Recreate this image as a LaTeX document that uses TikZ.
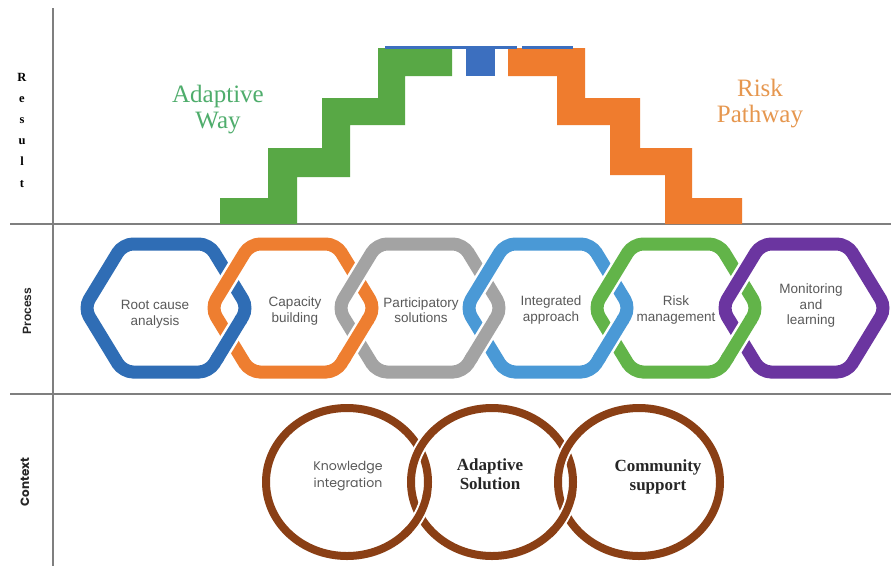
\documentclass[tikz,border=0pt]{standalone}
\usepackage{fontspec}
\setmainfont{Liberation Serif}
\newfontfamily\arialf{Liberation Sans}
\newfontfamily\geof{Poppins}

\definecolor{axisgray}{HTML}{7F7F7F}
\definecolor{labelgray}{HTML}{595959}
\definecolor{stairgreen}{HTML}{58A845}
\definecolor{stairorange}{HTML}{EF7C2E}
\definecolor{stairblue}{HTML}{3C6FBF}
\definecolor{advgreen}{HTML}{4FAD6C}
\definecolor{riskorange}{HTML}{E6974F}
\definecolor{hexblue}{HTML}{2F6DB5}
\definecolor{hexorange}{HTML}{EE7E30}
\definecolor{hexgray}{HTML}{A3A3A3}
\definecolor{hexlightblue}{HTML}{4A99D6}
\definecolor{hexgreen}{HTML}{62B449}
\definecolor{hexpurple}{HTML}{6B35A0}
\definecolor{ringbrown}{HTML}{8A3F15}

% outline of one hexagon link, centred at (#1,#2)
\newcommand{\hexoutline}[2]{({#1},{#2-64}) -- ({#1+43},{#2-64}) -- ({#1+82},{#2}) -- ({#1+43},{#2+64}) -- ({#1-43},{#2+64}) -- ({#1-82},{#2}) -- ({#1-43},{#2-64}) -- cycle}

\begin{document}
\begin{tikzpicture}[x=1pt,y=-1pt,
  axisline/.style={draw=axisgray, line width=2.4pt},
  hexhalo/.style={draw=white, line width=18pt, rounded corners=10pt},
  hexstroke/.style={line width=13pt, rounded corners=10pt},
  hexlabel/.style={font=\arialf\fontsize{13.5}{15.5}\selectfont, text=labelgray, align=center, inner sep=0pt},
  ringhalo/.style={draw=white, line width=12pt},
  ringstroke/.style={draw=ringbrown, line width=8pt},
  ringbold/.style={font=\bfseries\fontsize{17}{19}\selectfont, text=black!85, align=center, inner sep=0pt},
  titletext/.style={font=\fontsize{25}{26}\selectfont, align=center, inner sep=0pt},
  sidelabel/.style={font=\arialf\bfseries\fontsize{12}{14}\selectfont, text=black!85, rotate=90, inner sep=0pt}
]
\useasboundingbox (0,0) rectangle (891,566);
\fill[white] (0,0) rectangle (891,566);

% ---------- axes ----------
\draw[axisline] (53,8) -- (53,566);
\draw[axisline] (10,224) -- (891,224);
\draw[axisline] (10,394) -- (891,394);

% ---------- side labels ----------
\node[font=\bfseries\fontsize{12.5}{21.2}\selectfont, align=center, inner sep=0pt] (result) at (22,130)
  {R\\e\\s\\u\\l\\t};
\node[sidelabel] (process) at (27,311) {Process};
\node[sidelabel, font=\geof\bfseries\fontsize{12}{14}\selectfont] (context) at (25,482) {Context};

% ---------- result staircase ----------
\fill[stairgreen] (220,224) -- (220,198) -- (268,198) -- (268,148) -- (322,148) -- (322,98)
  -- (378,98) -- (378,48) -- (452,48) -- (452,76) -- (405,76) -- (405,125) -- (350,125)
  -- (350,177) -- (297,177) -- (297,224) -- cycle;
\fill[stairorange] (742,224) -- (742,198) -- (692,198) -- (692,148) -- (640,148) -- (640,98)
  -- (585,98) -- (585,48) -- (508,48) -- (508,76) -- (557,76) -- (557,125) -- (610,125)
  -- (610,175) -- (665,175) -- (665,224) -- cycle;
\fill[stairblue] (466,48) rectangle (495,76);
\fill[stairblue] (385,46) rectangle (517,49);
\fill[stairblue] (522,46) rectangle (573,49);

\node[titletext, text=advgreen] (adaptiveway) at (218,110) {Adaptive\\Way};
\node[titletext, text=riskorange] (riskpathway) at (760,104) {Risk\\Pathway};

% ---------- process chain ----------
\foreach \cx/\col in {166/hexblue, 293/hexorange, 420/hexgray, 548/hexlightblue, 676/hexgreen, 804/hexpurple}{
  \draw[hexhalo] \hexoutline{\cx}{308};
  \draw[hexstroke, draw=\col] \hexoutline{\cx}{308};
}
% lower crossings: the lower-right side of each link passes over the next link
\foreach \ca/\col in {166/hexblue, 293/hexorange, 420/hexgray, 548/hexlightblue, 676/hexgreen}{
  \draw[draw=white, line width=18pt] ({\ca+74.2},320.8) -- ({\ca+52.75},356);
  \draw[draw=\col, line width=13pt] ({\ca+75.4},318.9) -- ({\ca+50.8},359.2);
}

\node[hexlabel] (rootcause) at (155,314) {Root cause\\analysis};
\node[hexlabel] (capacity) at (295,311) {Capacity\\building};
\node[hexlabel] (participatory) at (421,310) {Participatory\\solutions};
\node[hexlabel] (integrated) at (551,310) {Integrated\\approach};
\node[hexlabel] (riskmgmt) at (676,310) {Risk\\management};
\node[hexlabel] (monitoring) at (811,306) {Monitoring\\and\\learning};

% ---------- context rings ----------
\foreach \cx in {347,492,639}{
  \draw[ringhalo] (\cx,482) ellipse [x radius=81, y radius=74];
  \draw[ringstroke] (\cx,482) ellipse [x radius=81, y radius=74];
}
% lower crossings: the left ring passes over the next one
\foreach \cx in {347,492}{
  \draw[ringhalo] (\cx,482) ++(12:81 and 74) arc [start angle=12, end angle=40, x radius=81, y radius=74];
  \draw[ringstroke] (\cx,482) ++(8:81 and 74) arc [start angle=8, end angle=45, x radius=81, y radius=74];
}

\node[font=\geof\fontsize{12.5}{17}\selectfont, text=labelgray, align=center, inner sep=0pt] (knowledge) at (348,476) {Knowledge\\integration};
\node[ringbold] (adaptivesol) at (490,474) {Adaptive\\Solution};
\node[ringbold] (community) at (658,477) {Community\\support};
\end{tikzpicture}
\end{document}
